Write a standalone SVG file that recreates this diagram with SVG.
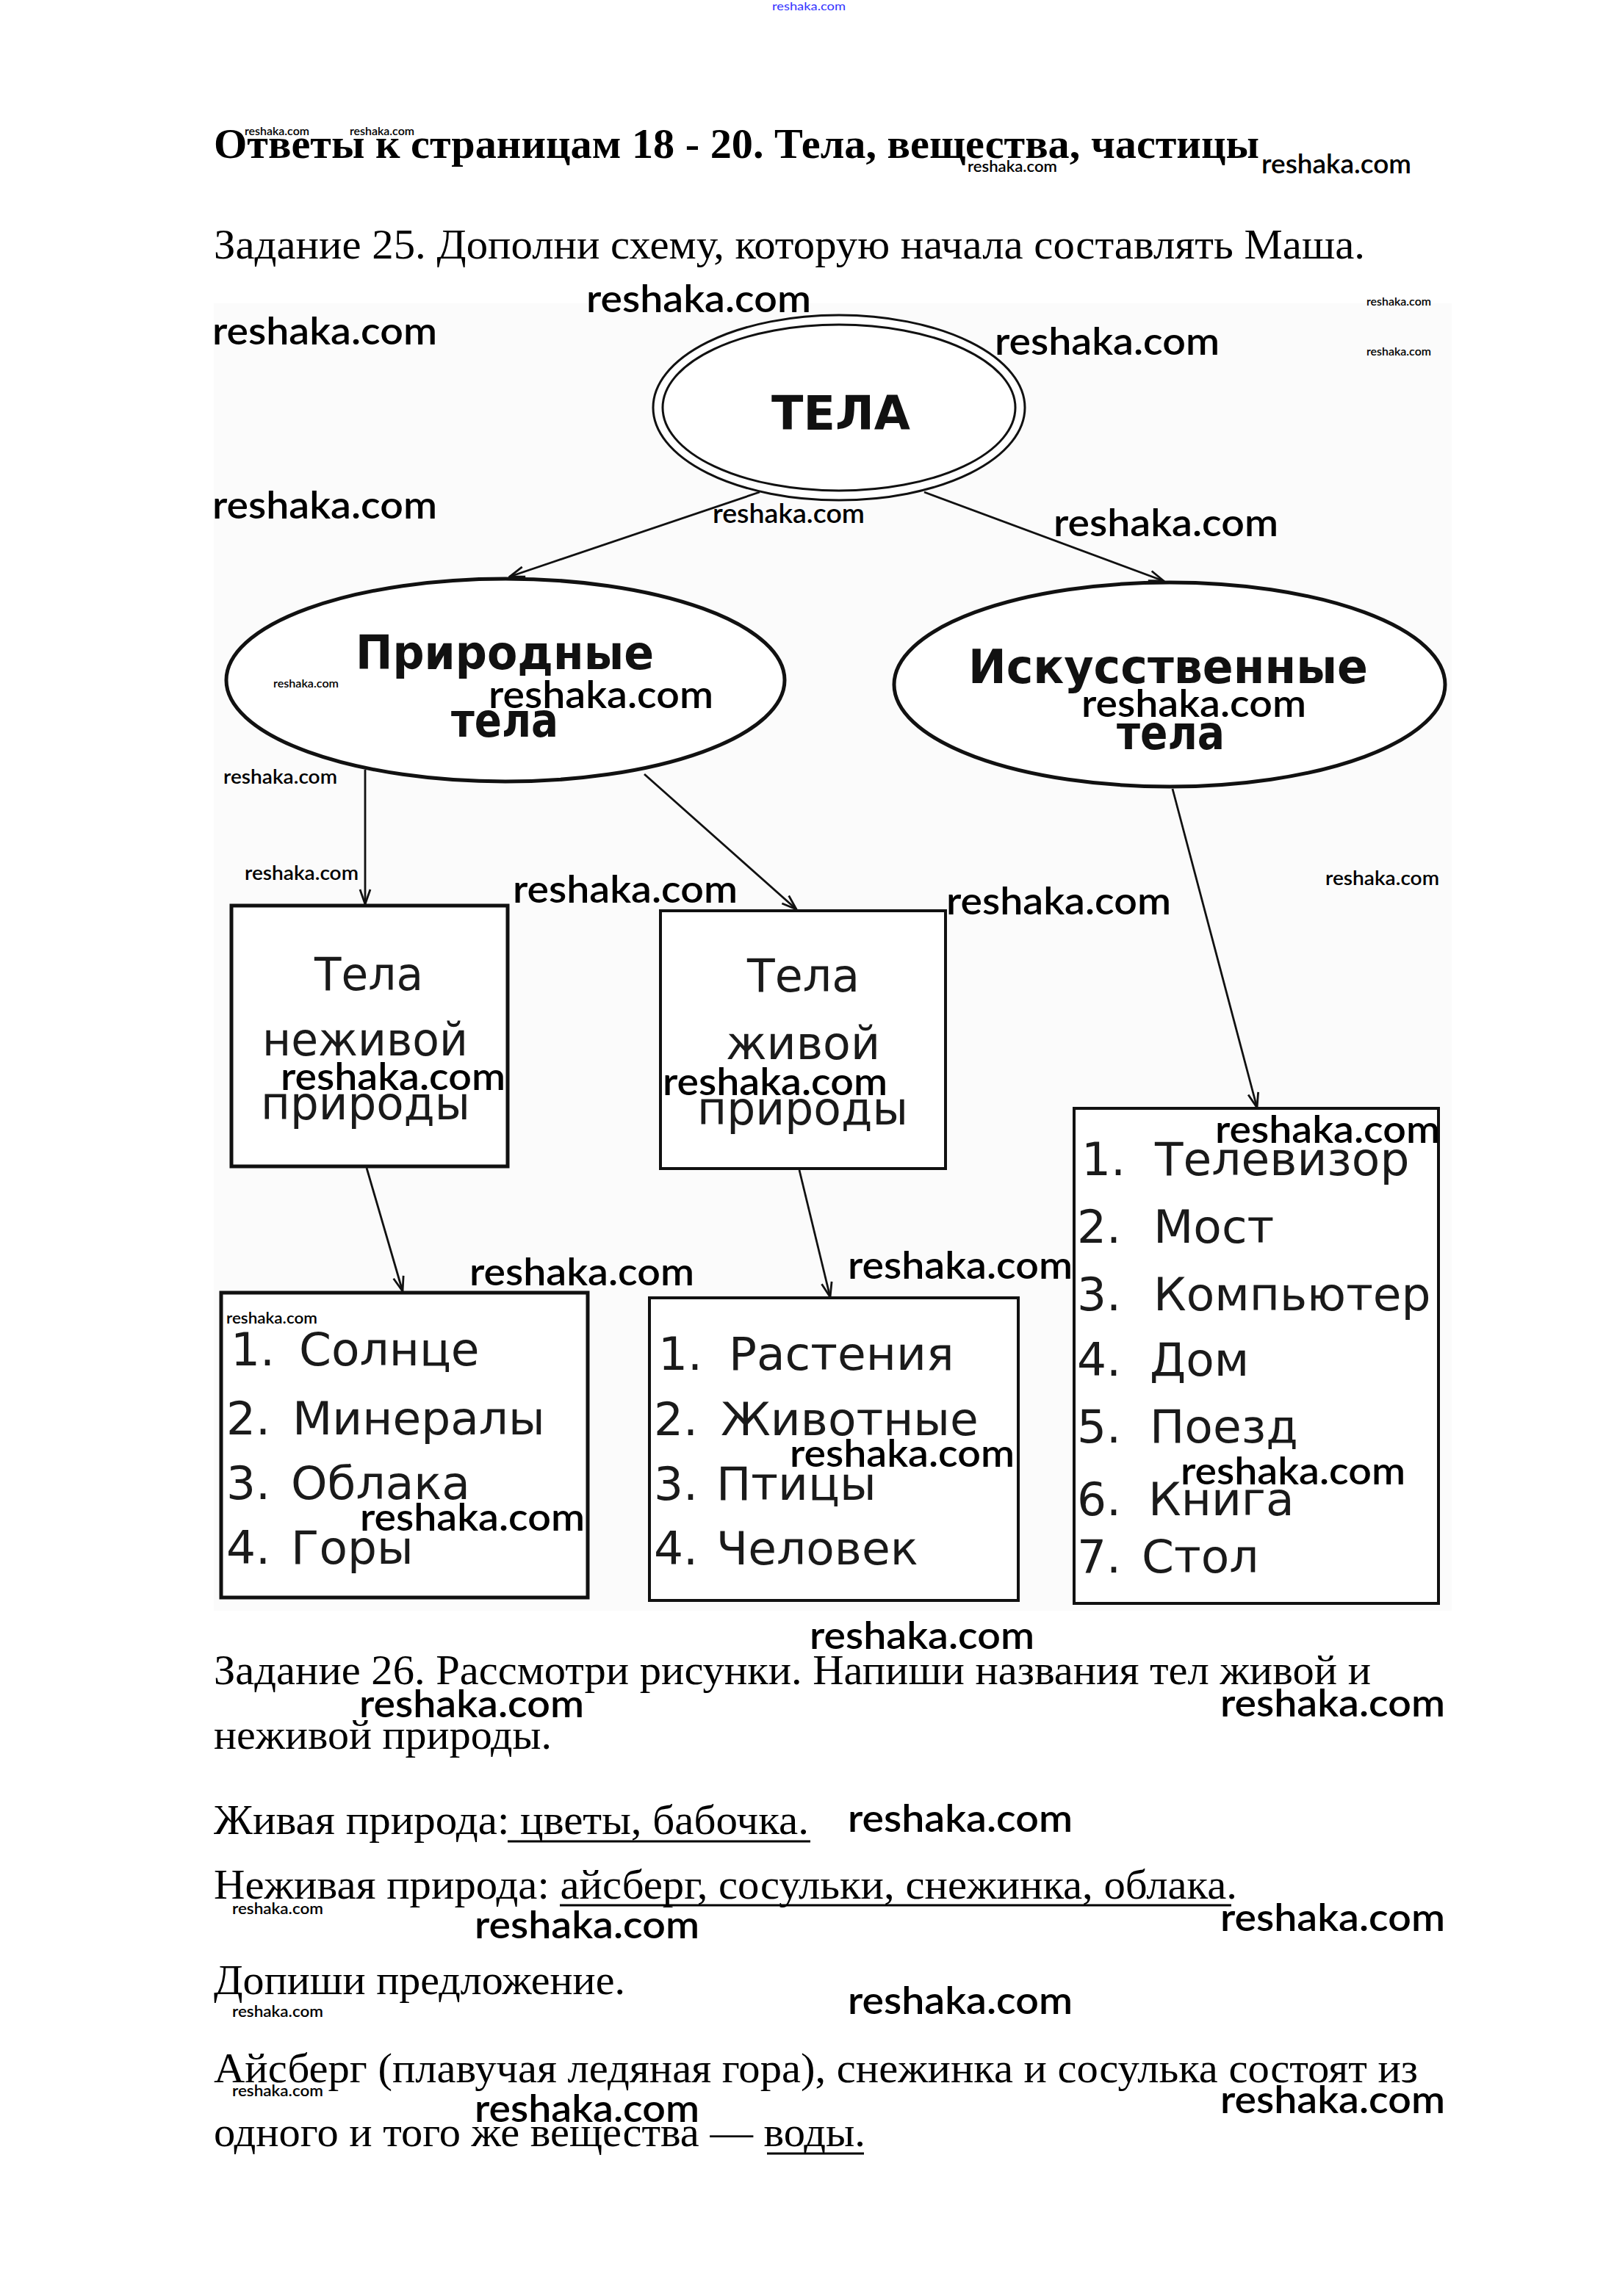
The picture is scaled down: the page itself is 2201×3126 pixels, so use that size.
<svg xmlns="http://www.w3.org/2000/svg" width="2201" height="3126" viewBox="0 0 2201 3126">
<style>
.ser{font-family:"Liberation Serif","Times New Roman",serif;fill:#000;font-size:57px}
.serb{font-family:"Liberation Serif","Times New Roman",serif;fill:#000;font-size:56px;font-weight:bold}
.wm{font-family:Lato,"Open Sans",sans-serif;fill:#000;font-weight:600}
.w15{font-size:15px}.w21{font-size:21px}.w27{font-size:27px}.w36{font-size:36px}.w52{font-size:52px}
.lbl{font-family:"DejaVu Sans",Verdana,sans-serif;fill:#1a1a1a;font-size:62px}
.lst{font-family:"DejaVu Sans",Verdana,sans-serif;fill:#1a1a1a;font-size:63px}
.bld{font-family:"DejaVu Sans",Verdana,sans-serif;fill:#111;font-weight:bold;font-size:64px}
.shp{fill:#fff;stroke:#111}
.con{stroke:#111;stroke-width:2.8;fill:none;marker-end:url(#ah)}
.ul{stroke:#000;stroke-width:3}
</style>
<defs>
<marker id="ah" viewBox="-24 -10 26 20" refX="0" refY="0" markerWidth="26" markerHeight="20" markerUnits="userSpaceOnUse" orient="auto">
<path d="M-20,-7 L0,0 L-20,7" fill="none" stroke="#111" stroke-width="2.8"/>
</marker>
</defs>
<rect width="2201" height="3126" fill="#fff"/>
<rect x="291" y="413" width="1685" height="1780" fill="#fbfbfb"/>

<text class="wm" x="1051" y="14" font-size="16" style="fill:#3333ff;font-weight:normal" textLength="100" lengthAdjust="spacingAndGlyphs">reshaka.com</text>

<text class="serb" x="291" y="215" textLength="1423" lengthAdjust="spacingAndGlyphs">Ответы к страницам 18 - 20. Тела, вещества, частицы</text>
<text class="ser" x="291" y="352" textLength="1567" lengthAdjust="spacingAndGlyphs">Задание 25. Дополни схему, которую начала составлять Маша.</text>

<g id="connectors">
<line class="con" x1="1034" y1="670" x2="694" y2="785"/>
<line class="con" x1="1258" y1="670" x2="1584" y2="791"/>
<line class="con" x1="497" y1="1048" x2="497" y2="1231"/>
<line class="con" x1="877" y1="1054" x2="1084" y2="1238"/>
<line class="con" x1="1596" y1="1074" x2="1711" y2="1508"/>
<line class="con" x1="499" y1="1590" x2="548" y2="1758"/>
<line class="con" x1="1088" y1="1593" x2="1130" y2="1766"/>
</g>

<g id="node-tela">
<ellipse class="shp" cx="1142" cy="555" rx="253" ry="126" stroke-width="3"/>
<ellipse cx="1142" cy="555" rx="240" ry="113" fill="none" stroke="#111" stroke-width="3"/>
<text class="bld" x="1050" y="585" font-size="77" textLength="189" lengthAdjust="spacingAndGlyphs">ТЕЛА</text>
</g>

<g id="node-prirodnye">
<ellipse class="shp" cx="688" cy="926" rx="380" ry="138" stroke-width="5"/>
<text class="bld" x="484" y="911" textLength="406" lengthAdjust="spacingAndGlyphs">Природные</text>
<text class="bld" x="614" y="1003" textLength="146" lengthAdjust="spacingAndGlyphs">тела</text>
</g>

<g id="node-iskusstvennye">
<ellipse class="shp" cx="1592" cy="932" rx="375" ry="139" stroke-width="5"/>
<text class="bld" x="1318" y="930" textLength="544" lengthAdjust="spacingAndGlyphs">Искусственные</text>
<text class="bld" x="1520" y="1020" textLength="147" lengthAdjust="spacingAndGlyphs">тела</text>
</g>

<g id="node-nezhivoy">
<rect class="shp" x="315" y="1233" width="376" height="355" stroke-width="5"/>
<text class="lbl" x="428" y="1348" textLength="148" lengthAdjust="spacingAndGlyphs">Тела</text>
<text class="lbl" x="357" y="1437" textLength="280" lengthAdjust="spacingAndGlyphs">неживой</text>
<text class="lbl" x="355" y="1524" textLength="285" lengthAdjust="spacingAndGlyphs">природы</text>
</g>

<g id="node-zhivoy">
<rect class="shp" x="899" y="1240" width="388" height="351" stroke-width="4"/>
<text class="lbl" x="1017" y="1350" textLength="153" lengthAdjust="spacingAndGlyphs">Тела</text>
<text class="lbl" x="988" y="1442" textLength="210" lengthAdjust="spacingAndGlyphs">живой</text>
<text class="lbl" x="949" y="1531" textLength="287" lengthAdjust="spacingAndGlyphs">природы</text>
</g>

<g id="node-list-iskusstvennye">
<rect class="shp" x="1462" y="1509" width="496" height="674" stroke-width="4"/>
<text class="lst" x="1472" y="1600">1.</text><text class="lst" x="1572" y="1600">Телевизор</text>
<text class="lst" x="1466" y="1692">2.</text><text class="lst" x="1570" y="1692">Мост</text>
<text class="lst" x="1466" y="1784">3.</text><text class="lst" x="1570" y="1784">Компьютер</text>
<text class="lst" x="1466" y="1873">4.</text><text class="lst" x="1565" y="1873">Дом</text>
<text class="lst" x="1466" y="1964">5.</text><text class="lst" x="1565" y="1964">Поезд</text>
<text class="lst" x="1466" y="2063">6.</text><text class="lst" x="1563" y="2063">Книга</text>
<text class="lst" x="1466" y="2141">7.</text><text class="lst" x="1554" y="2141">Стол</text>
</g>

<g id="node-list-nezhivoy">
<rect class="shp" x="301" y="1760" width="499" height="415" stroke-width="5"/>
<text class="lst" x="314" y="1859">1.</text><text class="lst" x="407" y="1859">Солнце</text>
<text class="lst" x="308" y="1953">2.</text><text class="lst" x="398" y="1953">Минералы</text>
<text class="lst" x="308" y="2041">3.</text><text class="lst" x="396" y="2041">Облака</text>
<text class="lst" x="308" y="2129">4.</text><text class="lst" x="396" y="2129">Горы</text>
</g>

<g id="node-list-zhivoy">
<rect class="shp" x="884" y="1767" width="502" height="412" stroke-width="4"/>
<text class="lst" x="896" y="1865">1.</text><text class="lst" x="992" y="1865">Растения</text>
<text class="lst" x="890" y="1954">2.</text><text class="lst" x="981" y="1954">Животные</text>
<text class="lst" x="890" y="2042">3.</text><text class="lst" x="975" y="2042">Птицы</text>
<text class="lst" x="890" y="2130">4.</text><text class="lst" x="975" y="2130">Человек</text>
</g>

<text class="ser" x="291" y="2293" textLength="1575" lengthAdjust="spacingAndGlyphs">Задание 26. Рассмотри рисунки. Напиши названия тел живой и</text>
<text class="ser" x="291" y="2381" textLength="460" lengthAdjust="spacingAndGlyphs">неживой природы.</text>
<text class="ser" x="291" y="2497" textLength="810" lengthAdjust="spacingAndGlyphs">Живая природа: цветы, бабочка.</text>
<line class="ul" x1="691" y1="2507" x2="1103" y2="2507"/>
<text class="ser" x="291" y="2585" textLength="1393" lengthAdjust="spacingAndGlyphs">Неживая природа: айсберг, сосульки, снежинка, облака.</text>
<line class="ul" x1="762" y1="2594" x2="1676" y2="2594"/>
<text class="ser" x="291" y="2715" textLength="560" lengthAdjust="spacingAndGlyphs">Допиши предложение.</text>
<text class="ser" x="291" y="2835" textLength="1639" lengthAdjust="spacingAndGlyphs">Айсберг (плавучая ледяная гора), снежинка и сосулька состоят из</text>
<text class="ser" x="291" y="2922" textLength="887" lengthAdjust="spacingAndGlyphs">одного и того же вещества — воды.</text>
<line class="ul" x1="1044" y1="2932" x2="1176" y2="2932"/>

<g id="watermarks">
<text class="wm w15" x="333" y="184" textLength="88" lengthAdjust="spacingAndGlyphs">reshaka.com</text>
<text class="wm w15" x="476" y="184" textLength="88" lengthAdjust="spacingAndGlyphs">reshaka.com</text>
<text class="wm w15" x="1860" y="416" textLength="88" lengthAdjust="spacingAndGlyphs">reshaka.com</text>
<text class="wm w15" x="1860" y="484" textLength="88" lengthAdjust="spacingAndGlyphs">reshaka.com</text>
<text class="wm w15" x="372" y="936" textLength="89" lengthAdjust="spacingAndGlyphs">reshaka.com</text>
<text class="wm w21" x="1317" y="234" textLength="122" lengthAdjust="spacingAndGlyphs">reshaka.com</text>
<text class="wm w21" x="308" y="1802" textLength="124" lengthAdjust="spacingAndGlyphs">reshaka.com</text>
<text class="wm w21" x="316" y="2606" textLength="124" lengthAdjust="spacingAndGlyphs">reshaka.com</text>
<text class="wm w21" x="316" y="2746" textLength="124" lengthAdjust="spacingAndGlyphs">reshaka.com</text>
<text class="wm w21" x="316" y="2854" textLength="124" lengthAdjust="spacingAndGlyphs">reshaka.com</text>
<text class="wm w27" x="304" y="1067" textLength="155" lengthAdjust="spacingAndGlyphs">reshaka.com</text>
<text class="wm w27" x="333" y="1198" textLength="155" lengthAdjust="spacingAndGlyphs">reshaka.com</text>
<text class="wm w27" x="1804" y="1205" textLength="155" lengthAdjust="spacingAndGlyphs">reshaka.com</text>
<text class="wm w36" x="1717" y="236" textLength="204" lengthAdjust="spacingAndGlyphs">reshaka.com</text>
<text class="wm w36" x="970" y="712" textLength="207" lengthAdjust="spacingAndGlyphs">reshaka.com</text>
<text class="wm w52" x="798" y="425" textLength="306" lengthAdjust="spacingAndGlyphs">reshaka.com</text>
<text class="wm w52" x="289" y="469" textLength="306" lengthAdjust="spacingAndGlyphs">reshaka.com</text>
<text class="wm w52" x="1354" y="483" textLength="306" lengthAdjust="spacingAndGlyphs">reshaka.com</text>
<text class="wm w52" x="289" y="706" textLength="306" lengthAdjust="spacingAndGlyphs">reshaka.com</text>
<text class="wm w52" x="1434" y="730" textLength="306" lengthAdjust="spacingAndGlyphs">reshaka.com</text>
<text class="wm w52" x="665" y="964" textLength="306" lengthAdjust="spacingAndGlyphs">reshaka.com</text>
<text class="wm w52" x="1472" y="976" textLength="306" lengthAdjust="spacingAndGlyphs">reshaka.com</text>
<text class="wm w52" x="698" y="1229" textLength="306" lengthAdjust="spacingAndGlyphs">reshaka.com</text>
<text class="wm w52" x="1288" y="1245" textLength="306" lengthAdjust="spacingAndGlyphs">reshaka.com</text>
<text class="wm w52" x="382" y="1484" textLength="306" lengthAdjust="spacingAndGlyphs">reshaka.com</text>
<text class="wm w52" x="902" y="1491" textLength="306" lengthAdjust="spacingAndGlyphs">reshaka.com</text>
<text class="wm w52" x="1654" y="1556" textLength="306" lengthAdjust="spacingAndGlyphs">reshaka.com</text>
<text class="wm w52" x="639" y="1750" textLength="306" lengthAdjust="spacingAndGlyphs">reshaka.com</text>
<text class="wm w52" x="1154" y="1741" textLength="306" lengthAdjust="spacingAndGlyphs">reshaka.com</text>
<text class="wm w52" x="1075" y="1997" textLength="306" lengthAdjust="spacingAndGlyphs">reshaka.com</text>
<text class="wm w52" x="1607" y="2021" textLength="306" lengthAdjust="spacingAndGlyphs">reshaka.com</text>
<text class="wm w52" x="490" y="2084" textLength="306" lengthAdjust="spacingAndGlyphs">reshaka.com</text>
<text class="wm w52" x="1102" y="2245" textLength="306" lengthAdjust="spacingAndGlyphs">reshaka.com</text>
<text class="wm w52" x="489" y="2338" textLength="306" lengthAdjust="spacingAndGlyphs">reshaka.com</text>
<text class="wm w52" x="1661" y="2337" textLength="306" lengthAdjust="spacingAndGlyphs">reshaka.com</text>
<text class="wm w52" x="1154" y="2494" textLength="306" lengthAdjust="spacingAndGlyphs">reshaka.com</text>
<text class="wm w52" x="646" y="2639" textLength="306" lengthAdjust="spacingAndGlyphs">reshaka.com</text>
<text class="wm w52" x="1661" y="2629" textLength="306" lengthAdjust="spacingAndGlyphs">reshaka.com</text>
<text class="wm w52" x="1154" y="2742" textLength="306" lengthAdjust="spacingAndGlyphs">reshaka.com</text>
<text class="wm w52" x="646" y="2889" textLength="306" lengthAdjust="spacingAndGlyphs">reshaka.com</text>
<text class="wm w52" x="1661" y="2877" textLength="306" lengthAdjust="spacingAndGlyphs">reshaka.com</text>
</g>
</svg>
